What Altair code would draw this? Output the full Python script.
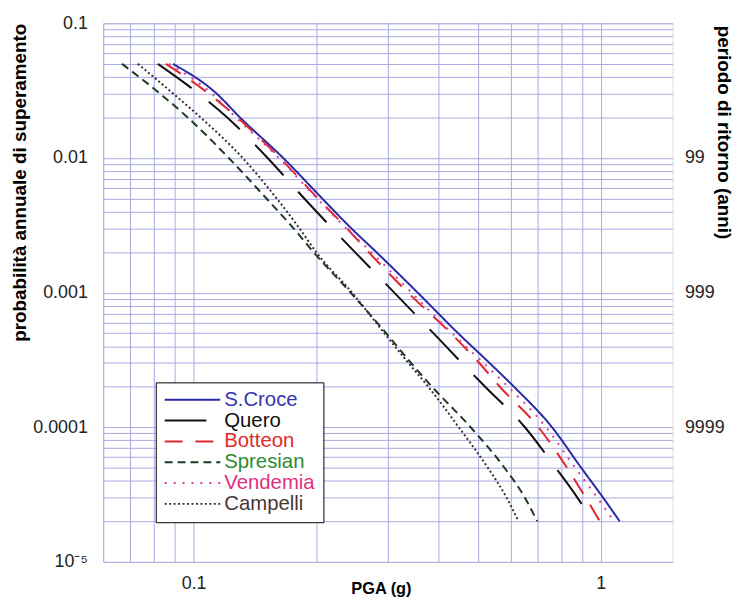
import altair as alt
import pandas as pd

# annual exceedance probability levels (y) shared by all curves
prob = [0.05, 0.03, 0.02, 0.01, 0.005, 0.003, 0.002, 0.001,
        5e-4, 3e-4, 2e-4, 1e-4, 5e-5, 3e-5, 2e-5]

series_names = ["S.Croce", "Quero", "Botteon", "Spresian", "Vendemia", "Campelli"]

# PGA (g) read for each probability level
pga_s_croce = [0.089, 0.114, 0.130, 0.166, 0.207, 0.244, 0.281, 0.355,
               0.446, 0.533, 0.612, 0.759, 0.895, 1.013, 1.113]
pga_quero = [0.0817, 0.103, 0.121, 0.152, 0.187, 0.219, 0.249, 0.311,
             0.388, 0.456, 0.520, 0.651, 0.775, 0.876, 0.956]
pga_botteon = [0.0855, 0.109, 0.128, 0.163, 0.202, 0.238, 0.269, 0.336,
               0.428, 0.503, 0.565, 0.703, 0.826, 0.918, 0.995]
pga_spresian = [0.0667, 0.0828, 0.0967, 0.122, 0.151, 0.176, 0.197, 0.243,
                0.297, 0.342, 0.385, 0.479, 0.580, 0.651, 0.698]
pga_vendemia = [0.087, 0.111, 0.127, 0.162, 0.201, 0.237, 0.273, 0.343,
                0.431, 0.515, 0.592, 0.734, 0.865, 0.980, 1.076]
pga_campelli = [0.0730, 0.0892, 0.104, 0.132, 0.160, 0.182, 0.200, 0.245,
                0.294, 0.337, 0.377, 0.448, 0.528, 0.587, 0.628]

# axis ticks / labels
y_major = [0.1, 0.01, 0.001, 0.0001, 0.00001]
y_major_labels = ["0.1", "0.01", "0.001", "0.0001", "10\u207b\u2075"]
y_right_values = [0.01, 0.001, 0.0001]
y_right_labels = ["99", "999", "9999"]
x_grid = [0.06, 0.07, 0.08, 0.09, 0.1, 0.2, 0.3, 0.4, 0.5, 0.6, 0.7, 0.8, 0.9, 1.0]
x_major = [0.1, 1.0]
x_major_labels = ["0.1", "1"]
y_grid = [float(f"{k}e{e}") for e in range(-5, -1) for k in range(1, 10)] + [0.1]

# styles
line_colors = ["#2a2aa8", "#111111", "#e3262e", "#1f3a22", "#cc3fa8", "#3a2c2c"]
label_colors = ["#3535b0", "#111111", "#e02a2a", "#2e8b34", "#e0307f", "#4a3434"]
dashes = [[1, 0], [42, 22], [18, 13], [8, 5], [2, 7], [2, 2.5]]

pga_lists = [pga_s_croce, pga_quero, pga_botteon, pga_spresian, pga_vendemia, pga_campelli]
rows = []
for name, vals in zip(series_names, pga_lists):
    for p, g in zip(prob, vals):
        rows.append({"series": name, "pga": g, "prob": p})
df = pd.DataFrame(rows)


def label_expr(values, labels):
    expr = "''"
    for v, l in reversed(list(zip(values, labels))):
        expr = f"datum.value == {v!r} ? '{l}' : ({expr})"
    return expr


label_color_expr = "'#000000'"
for n, c in reversed(list(zip(series_names, label_colors))):
    label_color_expr = f"datum.value == '{n}' ? '{c}' : ({label_color_expr})"

FONT = "Liberation Sans"
GRID = "#a9a9e2"

x_scale = alt.Scale(type="log", domain=[0.06, 1.5], nice=False)
y_scale = alt.Scale(type="log", domain=[1e-5, 0.1], nice=False)

legend = alt.Legend(
    title=None, orient="none", legendX=53, legendY=362,
    fillColor="white", strokeColor="black", padding=8,
    symbolType="stroke", symbolSize=3136, symbolStrokeWidth=2,
    clipHeight=19, labelFont=FONT, labelFontSize=20.5, labelOffset=3,
    labelColor=alt.ExprRef(label_color_expr), rowPadding=0,
)

x_enc = alt.X("pga:Q", scale=x_scale, title="PGA (g)",
              axis=alt.Axis(values=x_grid, grid=True, gridColor=GRID, gridOpacity=1,
                            ticks=False, domain=False, labelOverlap=False,
                            labelExpr=label_expr(x_major, x_major_labels),
                            labelFont=FONT, labelFontSize=18, labelPadding=13,
                            labelColor="#222",
                            titleFont=FONT, titleFontSize=16.5, titleFontWeight="bold",
                            titleY=27, titleBaseline="middle", titleX=280))

lines = alt.Chart(df).mark_line(strokeWidth=2, clip=True, interpolate="monotone").encode(
    x=x_enc,
    y=alt.Y("prob:Q", scale=y_scale, title="probabilità annuale di superamento",
            axis=alt.Axis(values=y_grid, grid=True, gridColor=GRID, gridOpacity=1,
                          ticks=False, domain=False, labelOverlap=False,
                          labelExpr=label_expr(y_major, y_major_labels),
                          labelFont=FONT, labelFontSize=18, labelPadding=16,
                          labelColor="#222",
                          titleFont=FONT, titleFontSize=19, titleFontWeight="bold",
                          titleAnchor="end", titlePadding=3)),
    color=alt.Color("series:N", scale=alt.Scale(domain=series_names, range=line_colors),
                    legend=legend),
    strokeDash=alt.StrokeDash("series:N", scale=alt.Scale(domain=series_names, range=dashes),
                              legend=legend),
    detail="series:N",
)

right = alt.Chart(df).mark_line(opacity=0).encode(
    x=x_enc,
    y=alt.Y("prob:Q", scale=y_scale, title="periodo di ritorno (anni)",
            axis=alt.Axis(orient="right", values=y_right_values, grid=False,
                          ticks=False, domain=False, labelOverlap=False,
                          labelExpr=label_expr(y_right_values, y_right_labels),
                          labelFont=FONT, labelFontSize=18, labelPadding=12,
                          labelColor="#222",
                          titleFont=FONT, titleFontSize=19, titleFontWeight="bold",
                          titleAngle=90, titleAlign="left", titleBaseline="middle",
                          titleX=51, titleY=2)),
    detail="series:N",
)

chart = alt.layer(lines, right).resolve_scale(y="independent").properties(
    width=574, height=543,
    padding={"left": 96, "top": 13, "right": 64, "bottom": 40},
    autosize=alt.AutoSizeParams(type="none"),
).configure_view(stroke="#6c6cc8", strokeWidth=1.2).configure(background="white")

chart.save("out.html", embed_options={"renderer": "svg", "actions": False})
